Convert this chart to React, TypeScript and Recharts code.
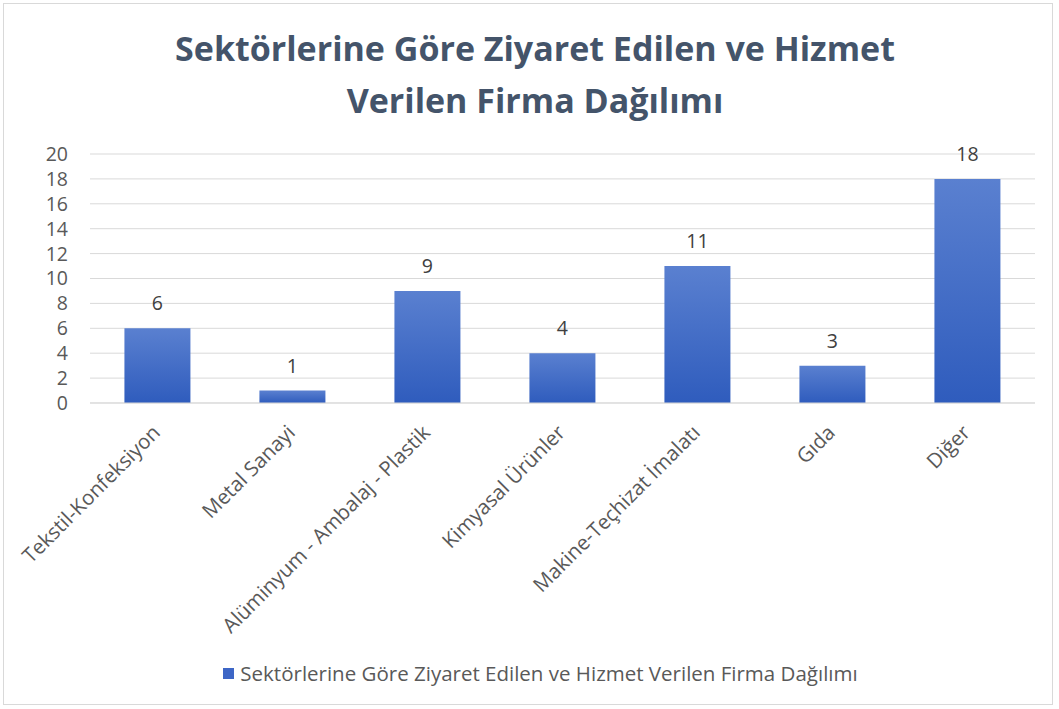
import React from 'react';
import { BarChart, Bar, XAxis, YAxis, CartesianGrid, Legend, LabelList } from 'recharts';

const categories = [
  'Tekstil-Konfeksiyon',
  'Metal Sanayi',
  'Alüminyum - Ambalaj - Plastik',
  'Kimyasal Ürünler',
  'Makine-Teçhizat İmalatı',
  'Gıda',
  'Diğer',
];
const values = [6, 1, 9, 4, 11, 3, 18];
const yTicks = [0, 2, 4, 6, 8, 10, 12, 14, 16, 18, 20];
const seriesName = 'Sektörlerine Göre Ziyaret Edilen ve Hizmet Verilen Firma Dağılımı';
const titleLines = ['Sektörlerine Göre Ziyaret Edilen ve Hizmet', 'Verilen Firma Dağılımı'];

const data = categories.map((c, i) => ({ name: c, value: values[i] }));

const FONT = '"Open Sans", "Noto Sans", sans-serif';

const XTick = (props: any) => {
  const { x, y, payload } = props;
  return (
    <g transform={`translate(${x - 6},${y + 13})`}>
      <text
        x={0}
        y={0}
        dy={14}
        textAnchor="end"
        transform="rotate(-45)"
        fill="#595959"
        fontSize={20.5}
        fontFamily={FONT}
      >
        {payload.value}
      </text>
    </g>
  );
};

const LegendContent = () => (
  <div style={{ display: 'flex', justifyContent: 'center', alignItems: 'center', fontFamily: FONT, fontSize: 20.5, color: '#595959', paddingLeft: 46 }}>
    <span style={{ display: 'inline-block', width: 11, height: 11, background: '#3d66c6', marginRight: 6 }} />
    <span>{seriesName}</span>
  </div>
);

export default function App() {
  return (
    <div style={{ position: 'absolute', left: 0, top: 0, width: 1059, height: 709, background: '#fff' }}>
      <div
        style={{
          position: 'absolute',
          left: 3,
          top: 3,
          width: 1050,
          height: 702,
          border: '1px solid #d9d9d9',
          boxSizing: 'border-box',
        }}
      />
      <div
        style={{
          position: 'absolute',
          left: 0,
          top: 22,
          width: 1070,
          textAlign: 'center',
          fontFamily: FONT,
          fontWeight: 700,
          fontSize: 34,
          lineHeight: '52px',
          color: '#44546a',
        }}
      >
        {titleLines.map((l) => (
          <div key={l}>{l}</div>
        ))}
      </div>
      <div style={{ position: 'absolute', left: 0, top: 0 }}>
        <BarChart
          width={1059}
          height={709}
          data={data}
          margin={{ top: 154, right: 24, left: 0, bottom: 10 }}
          barCategoryGap="25.5%"
        >
          <defs>
            <linearGradient id="barGrad" x1="0" y1="0" x2="0" y2="1">
              <stop offset="0%" stopColor="#5a80d0" />
              <stop offset="100%" stopColor="#2f5cbd" />
            </linearGradient>
          </defs>
          <CartesianGrid vertical={false} stroke="#d9d9d9" />
          <XAxis
            dataKey="name"
            interval={0}
            tick={<XTick />}
            tickLine={false}
            axisLine={{ stroke: '#d9d9d9' }}
            height={256}
          />
          <YAxis
            domain={[0, 20]}
            ticks={yTicks}
            interval={0}
            width={90}
            tickLine={false}
            axisLine={false}
            tickSize={0}
            tickMargin={22}
            tick={{ fill: '#595959', fontSize: 19.5, fontFamily: FONT }}
          />
          <Legend verticalAlign="bottom" height={40} content={<LegendContent />} />
          <Bar dataKey="value" name={seriesName} fill="url(#barGrad)" isAnimationActive={false}>
            <LabelList dataKey="value" position="top" offset={18} fill="#404040" fontSize={19.5} fontFamily={FONT} />
          </Bar>
        </BarChart>
      </div>
    </div>
  );
}
